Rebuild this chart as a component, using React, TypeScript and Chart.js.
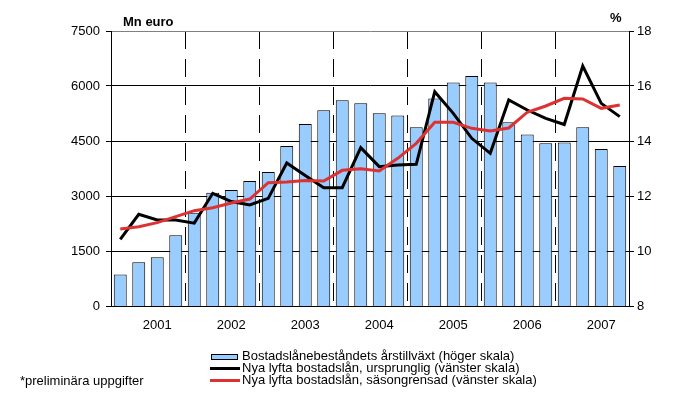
import React, { useEffect, useRef } from 'react';
import { Chart, registerables } from 'chart.js';

Chart.register(...registerables);

const years = ['2001', '2002', '2003', '2004', '2005', '2006', '2007'];
const quarters = [
  '2001 Q1', '2001 Q2', '2001 Q3', '2001 Q4',
  '2002 Q1', '2002 Q2', '2002 Q3', '2002 Q4',
  '2003 Q1', '2003 Q2', '2003 Q3', '2003 Q4',
  '2004 Q1', '2004 Q2', '2004 Q3', '2004 Q4',
  '2005 Q1', '2005 Q2', '2005 Q3', '2005 Q4',
  '2006 Q1', '2006 Q2', '2006 Q3', '2006 Q4',
  '2007 Q1', '2007 Q2', '2007 Q3', '2007 Q4',
];

// Bostadslånebeståndets årstillväxt, % (höger skala)
const growthPct = [
  9.15, 9.59, 9.77, 10.57,
  11.39, 12.12, 12.22, 12.55,
  12.87, 13.82, 14.62, 15.12,
  15.48, 15.37, 15.01, 14.93,
  14.5, 15.55, 16.13, 16.36,
  16.13, 14.68, 14.24, 13.92,
  13.95, 14.5, 13.71, 13.09,
];

// Nya lyfta bostadslån, ursprunglig, Mn euro (vänster skala)
const newLoansOriginal = [
  1818, 2500, 2345, 2345,
  2260, 3073, 2850, 2755,
  2936, 3900, 3560, 3227,
  3227, 4318, 3800, 3845,
  3864, 5845, 5255, 4573,
  4164, 5620, 5345, 5118,
  4950, 6545, 5527, 5164,
];

// Nya lyfta bostadslån, säsongrensad, Mn euro (vänster skala)
const newLoansSeasonal = [
  2100, 2164, 2273, 2436,
  2600, 2680, 2810, 2918,
  3364, 3380, 3420, 3409,
  3700, 3740, 3682, 4027,
  4436, 5009, 5009, 4845,
  4773, 4855, 5285, 5455,
  5664, 5645, 5391, 5482,
];

const seriesNames = [
  'Bostadslånebeståndets årstillväxt (höger skala)',
  'Nya lyfta bostadslån, ursprunglig (vänster skala)',
  'Nya lyfta bostadslån, säsongrensad (vänster skala)',
];
const leftAxisTitle = 'Mn euro';
const rightAxisTitle = '%';
const footnote = '*preliminära uppgifter';

const FONT = '"Liberation Sans", Arial, Helvetica, sans-serif';
const BAR_FILL = '#99CCFF';
const RED = '#DC3232';

const textPlugin = {
  id: 'textPlugin',
  afterDraw(chart: any) {
    const ctx = chart.ctx as CanvasRenderingContext2D;
    ctx.save();
    ctx.fillStyle = '#000';
    ctx.textBaseline = 'middle';
    ctx.textAlign = 'left';
    ctx.font = `bold 13px ${FONT}`;
    ctx.fillText(leftAxisTitle, 123, 22);
    ctx.fillText(rightAxisTitle, 610, 18);

    // legend
    ctx.fillStyle = BAR_FILL;
    ctx.fillRect(211, 354, 27, 6);
    ctx.strokeStyle = '#000';
    ctx.lineWidth = 1;
    ctx.strokeRect(211.5, 354.5, 26, 5);
    ctx.lineWidth = 3;
    ctx.strokeStyle = '#000';
    ctx.beginPath();
    ctx.moveTo(210, 368.5);
    ctx.lineTo(240, 368.5);
    ctx.stroke();
    ctx.strokeStyle = RED;
    ctx.beginPath();
    ctx.moveTo(210, 380.5);
    ctx.lineTo(240, 380.5);
    ctx.stroke();

    ctx.fillStyle = '#000';
    ctx.font = `13px ${FONT}`;
    ctx.fillText(seriesNames[0], 242, 356.5);
    ctx.fillText(seriesNames[1], 242, 368.5);
    ctx.fillText(seriesNames[2], 242, 380.5);
    ctx.fillText(footnote, 20, 381.5);
    ctx.restore();
  },
};

export default function App() {
  const canvasRef = useRef<HTMLCanvasElement | null>(null);

  useEffect(() => {
    if (!canvasRef.current) return;
    Chart.defaults.font.family = FONT;
    Chart.defaults.font.size = 13;
    Chart.defaults.color = '#000';

    const chart = new Chart(canvasRef.current, {
      type: 'bar',
      data: {
        labels: quarters,
        datasets: [
          {
            type: 'line',
            label: seriesNames[2],
            data: newLoansSeasonal,
            yAxisID: 'y',
            borderColor: RED,
            backgroundColor: RED,
            borderWidth: 3,
            pointRadius: 0,
            tension: 0,
            order: 1,
          } as any,
          {
            type: 'line',
            label: seriesNames[1],
            data: newLoansOriginal,
            yAxisID: 'y',
            borderColor: '#000',
            backgroundColor: '#000',
            borderWidth: 3,
            pointRadius: 0,
            tension: 0,
            order: 2,
          } as any,
          {
            type: 'bar',
            label: seriesNames[0],
            data: growthPct,
            yAxisID: 'y1',
            backgroundColor: BAR_FILL,
            borderColor: '#000',
            borderWidth: 1,
            barPercentage: 0.7,
            categoryPercentage: 1,
            order: 3,
          } as any,
        ],
      },
      options: {
        responsive: false,
        animation: false,
        layout: { padding: { top: 31, left: 0, right: 0, bottom: 0 } },
        plugins: {
          legend: { display: false },
          tooltip: { enabled: false },
          title: { display: false },
        },
        scales: {
          x: {
            type: 'category',
            offset: true,
            grid: {
              offset: true,
              drawTicks: false,
              lineWidth: 1,
              color: (c: any) =>
                typeof c.index === 'number' && c.index > 0 && c.index % 4 === 0
                  ? '#000'
                  : 'rgba(0,0,0,0)',
            },
            border: { display: true, color: '#000', width: 1, dash: [18, 10] },
            ticks: {
              autoSkip: false,
              maxRotation: 0,
              minRotation: 0,
              padding: 12,
              font: { size: 13 },
              callback: (_v: any, i: number) => (i % 4 === 2 ? years[Math.floor(i / 4)] : ''),
            },
            afterFit: (s: any) => {
              s.height = 93;
            },
          },
          y: {
            type: 'linear',
            position: 'left',
            min: 0,
            max: 7500,
            ticks: {
              stepSize: 1500,
              padding: 6,
              font: { size: 13 },
              callback: (v: any) => String(v),
            },
            grid: {
              color: (c: any) => (c.tick && c.tick.value === 7500 ? '#808080' : '#000'),
              tickColor: '#000',
              tickLength: 5,
              lineWidth: 1,
            },
            border: { color: '#000', width: 1 },
            afterFit: (s: any) => {
              s.width = 111;
            },
          },
          y1: {
            type: 'linear',
            position: 'right',
            min: 8,
            max: 18,
            ticks: { stepSize: 2, padding: 3, font: { size: 13 }, callback: (v: any) => String(v) },
            grid: {
              drawOnChartArea: false,
              tickColor: '#000',
              tickLength: 5,
            },
            border: { color: '#000', width: 1 },
            afterFit: (s: any) => {
              s.width = 64;
            },
          },
        },
      },
      plugins: [textPlugin],
    });

    return () => chart.destroy();
  }, []);

  return (
    <div style={{ position: 'fixed', left: 0, top: 0, width: 693, height: 399, background: '#fff' }}>
      <canvas ref={canvasRef} width={693} height={399} style={{ display: 'block' }} />
    </div>
  );
}
